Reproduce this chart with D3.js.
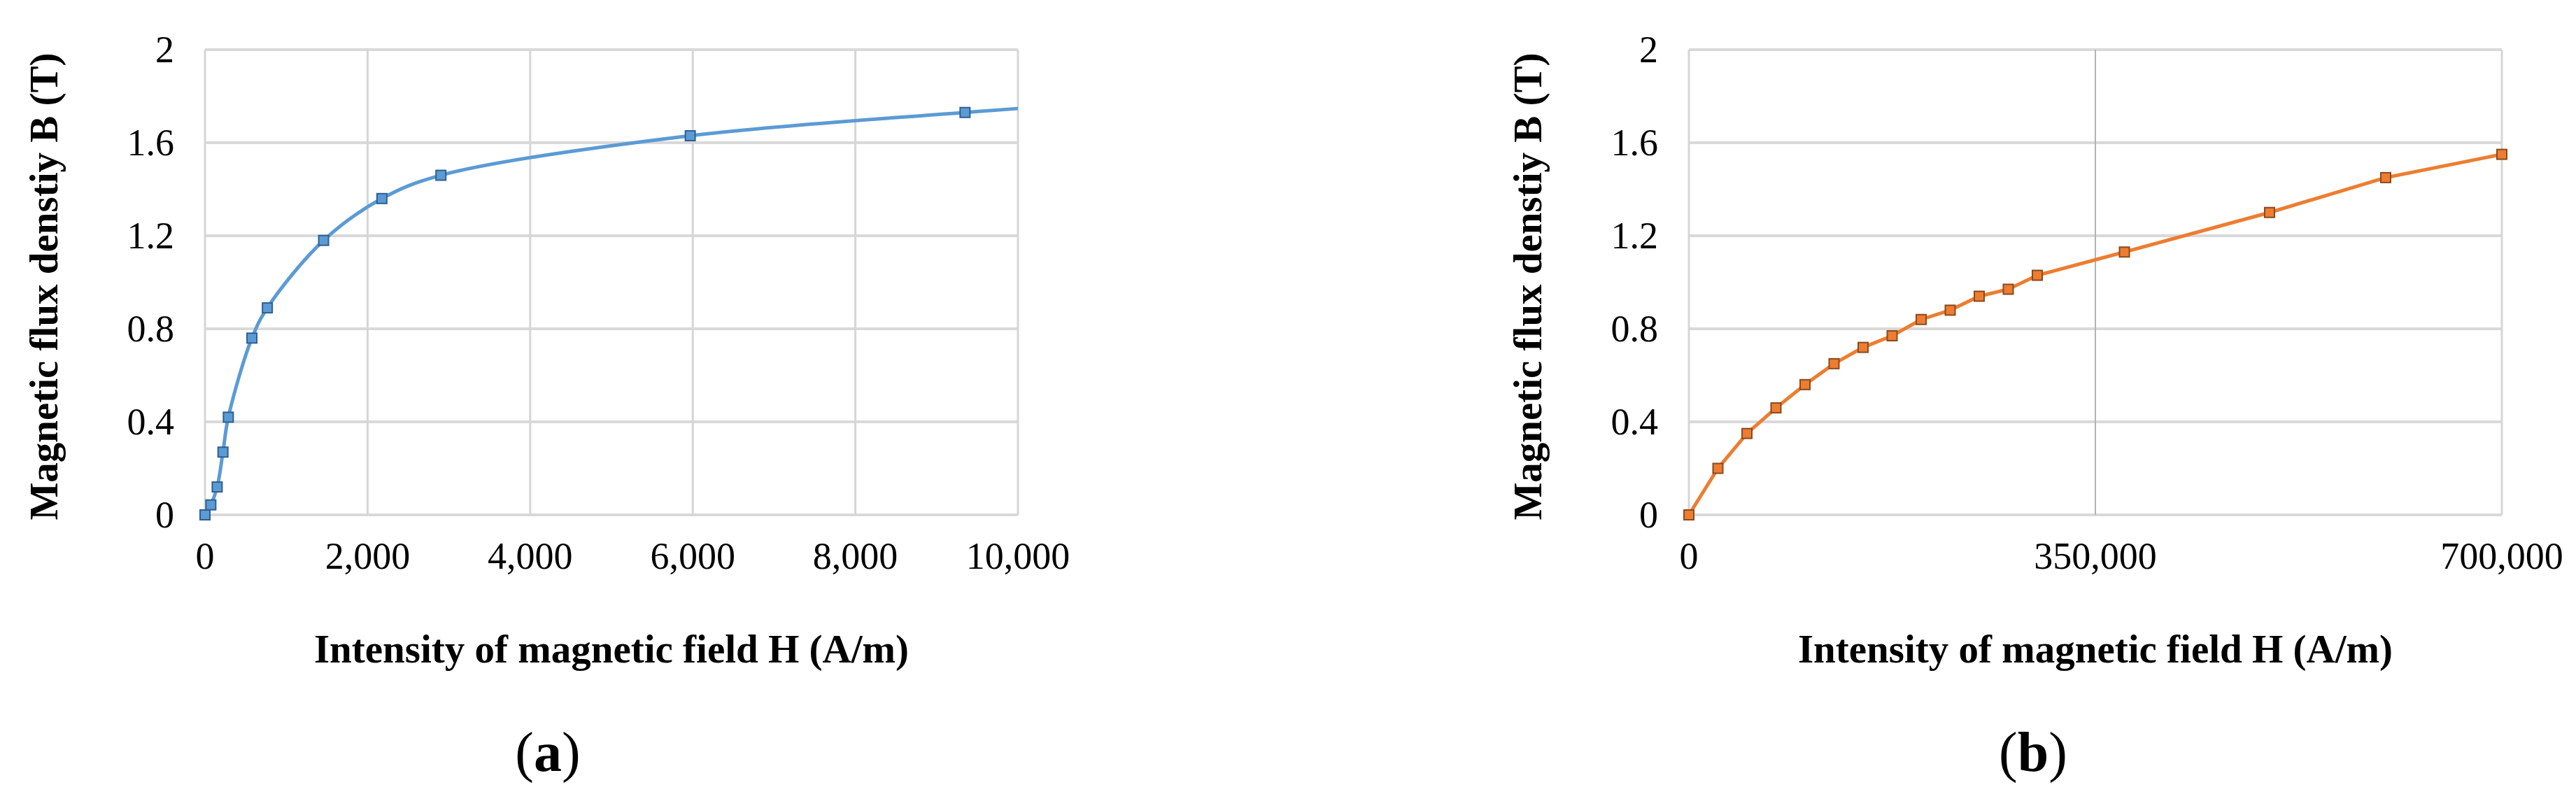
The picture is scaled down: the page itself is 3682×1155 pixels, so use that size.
<!DOCTYPE html>
<html>
<head>
<meta charset="utf-8">
<script src="https://cdn.jsdelivr.net/npm/d3@7"></script>
<style>
body { margin: 0; background: #fff; }
text { font-family: "Liberation Serif", "Times New Roman", serif; fill: #000; }
</style>
</head>
<body>
<div id="chart"></div>
<script>
// (a) smoothed B-H curve, low field range
const hA = [0, 72, 150, 221, 287, 577, 767, 1459, 2176, 2902, 5969, 9349];
const bA = [0, 0.043, 0.12, 0.27, 0.42, 0.76, 0.89, 1.18, 1.36, 1.46, 1.63, 1.73];
// curve runs on to the end of the axis without a marker
const hTailA = [10000];
const bTailA = [1.747];

// (b) B-H curve, high field range
const hB = [0, 25000, 50000, 75000, 100000, 125000, 150000, 175000, 200000, 225000,
            250000, 275000, 300000, 375000, 500000, 600000, 700000];
const bB = [0, 0.2, 0.35, 0.46, 0.56, 0.65, 0.72, 0.77, 0.84, 0.88,
            0.94, 0.97, 1.03, 1.13, 1.3, 1.45, 1.55];

// ticks
const yTicks = [0, 0.4, 0.8, 1.2, 1.6, 2];
const yTickLabels = ["0", "0.4", "0.8", "1.2", "1.6", "2"];
const xTicksA = [0, 2000, 4000, 6000, 8000, 10000];
const xTicksB = [0, 350000, 700000];

const yTitle = "Magnetic flux denstiy B (T)";
const xTitle = "Intensity of magnetic field H (A/m)";

// canvas
const w = 3682;
const h = 1155;
const plotTop = 71;
const plotBottom = 736;

const svg = d3.select("#chart")
              .append("svg")
              .attr("width", w)
              .attr("height", h)
              .style("background", "#fff");

const yScale = d3.scaleLinear().domain([0, 2]).range([plotBottom, plotTop]);

// draws one panel
const drawPanel = p => {
    const xScale = d3.scaleLinear().domain([0, p.xMax]).range([p.left, p.right]);
    const g = svg.append("g");

    // horizontal gridlines
    g.selectAll(".hgrid")
     .data(yTicks)
     .enter()
     .append("line")
     .attr("x1", p.left)
     .attr("x2", p.right)
     .attr("y1", d => yScale(d))
     .attr("y2", d => yScale(d))
     .attr("stroke", "#d9d9d9")
     .attr("stroke-width", 4);

    // vertical gridlines
    g.selectAll(".vgrid")
     .data(p.xTicks)
     .enter()
     .append("line")
     .attr("x1", d => xScale(d))
     .attr("x2", d => xScale(d))
     .attr("y1", plotTop)
     .attr("y2", plotBottom)
     .attr("stroke", d => p.midDark && d > 0 && d < p.xMax ? "#b3b3b3" : "#d6d6d6")
     .attr("stroke-width", d => p.midDark && d > 0 && d < p.xMax ? 2 : 3);

    // line through the points
    const pts = p.hs.map((d, i) => [d, p.bs[i]]);
    const linePts = pts.concat(p.hTail.map((d, i) => [d, p.bTail[i]]));
    const line = d3.line()
                   .x(d => xScale(d[0]))
                   .y(d => yScale(d[1]))
                   .curve(p.smooth ? d3.curveCatmullRom.alpha(0.5) : d3.curveLinear);

    g.append("path")
     .datum(linePts)
     .attr("d", line)
     .attr("fill", "none")
     .attr("stroke", p.color)
     .attr("stroke-width", 5);

    // square markers
    const m = 14;
    g.selectAll(".marker")
     .data(pts)
     .enter()
     .append("rect")
     .attr("x", d => xScale(d[0]) - m / 2)
     .attr("y", d => yScale(d[1]) - m / 2)
     .attr("width", m)
     .attr("height", m)
     .attr("fill", p.color)
     .attr("stroke", p.edge)
     .attr("stroke-width", 2);

    // y tick labels
    g.selectAll(".ylab")
     .data(yTicks)
     .enter()
     .append("text")
     .attr("x", p.left - 44)
     .attr("y", d => yScale(d))
     .attr("dy", "0.34em")
     .attr("text-anchor", "end")
     .style("font-size", "54px")
     .text((d, i) => yTickLabels[i]);

    // x tick labels
    g.selectAll(".xlab")
     .data(p.xTicks)
     .enter()
     .append("text")
     .attr("x", d => xScale(d))
     .attr("y", plotBottom + 77)
     .attr("text-anchor", "middle")
     .style("font-size", "54px")
     .text(d => d3.format(",")(d));

    // axis titles
    g.append("text")
     .attr("transform", `translate(${p.left - 211},${(plotTop + plotBottom) / 2 + 6}) rotate(-90)`)
     .attr("text-anchor", "middle")
     .style("font-size", "57px")
     .style("font-weight", "bold")
     .text(yTitle);

    g.append("text")
     .attr("x", (p.left + p.right) / 2)
     .attr("y", 947)
     .attr("text-anchor", "middle")
     .style("font-size", "57px")
     .style("font-weight", "bold")
     .text(xTitle);

    // panel caption
    const cap = g.append("text")
                 .attr("x", p.capX)
                 .attr("y", 1102)
                 .attr("text-anchor", "middle")
                 .style("font-size", "80px");
    cap.append("tspan").text("(");
    cap.append("tspan").style("font-weight", "bold").text(p.letter);
    cap.append("tspan").text(")");
};

drawPanel({
    hs: hA, bs: bA, hTail: hTailA, bTail: bTailA,
    xMax: 10000, xTicks: xTicksA,
    left: 293, right: 1455,
    color: "#5b9bd5", edge: "#2f5f8f",
    smooth: true, midDark: false,
    capX: 783, letter: "a"
});

drawPanel({
    hs: hB, bs: bB, hTail: [], bTail: [],
    xMax: 700000, xTicks: xTicksB,
    left: 2414, right: 3576,
    color: "#ed7d31", edge: "#8a4a1f",
    smooth: false, midDark: true,
    capX: 2906, letter: "b"
});
</script>
</body>
</html>
